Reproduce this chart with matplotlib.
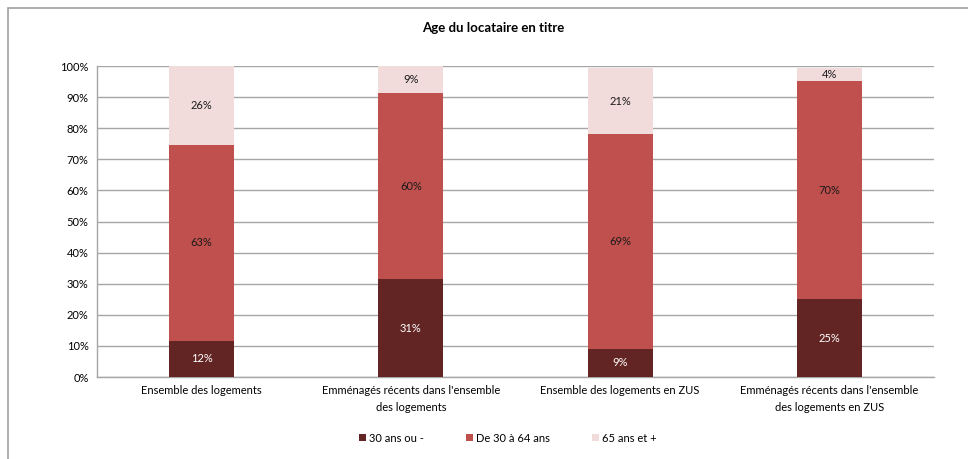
import matplotlib.pyplot as plt
import matplotlib.patches as patches
import numpy as np

plt.rcParams['font.family'] = ['Lato', 'DejaVu Sans']

categories = ["Ensemble des logements",
              "Emménagés récents dans l'ensemble\ndes logements",
              "Ensemble des logements en ZUS",
              "Emménagés récents dans l'ensemble\ndes logements en ZUS"]
series_names = ["30 ans ou -", "De 30 à 64 ans", "65 ans et +"]
jeunes = [11.7, 31.4, 9.1, 25.0]
moyens = [62.9, 60.0, 69.0, 70.1]
seniors = [25.4, 8.6, 21.2, 4.4]
labels = [["12%", "31%", "9%", "25%"],
          ["63%", "60%", "69%", "70%"],
          ["26%", "9%", "21%", "4%"]]
colors = ["#632523", "#C0504D", "#F2DCDB"]
text_colors = ["white", "#1a1a1a", "#1a1a1a"]

fig = plt.figure(figsize=(9.68, 4.59), dpi=100)
ax = fig.add_axes([0.1002, 0.1786, 0.8647, 0.6776])

# cadre du graphique
fig.patches.append(patches.Rectangle((8 / 968, -0.1), 1.2, 1 - 8 / 459 + 0.1,
                                     transform=fig.transFigure, fill=False,
                                     edgecolor="#A0A0A0", linewidth=1.2))

x = np.arange(len(categories))
bottom = np.zeros(len(categories))
for i, vals in enumerate([jeunes, moyens, seniors]):
    bars = ax.bar(x, vals, width=0.31, bottom=bottom, color=colors[i],
                  label=series_names[i], zorder=3)
    for j, b in enumerate(bars):
        ax.text(b.get_x() + b.get_width() / 2, bottom[j] + vals[j] / 2,
                labels[i][j], ha="center", va="center", fontsize=8,
                color=text_colors[i], zorder=4)
    bottom += np.array(vals)

ax.set_xlim(-0.5, 3.5)
ax.set_ylim(0, 100)
ax.set_yticks(np.arange(0, 101, 10))
ax.set_yticklabels([f"{v}%" for v in range(0, 101, 10)], fontsize=8)
ax.set_xticks(x)
ax.set_xticklabels(categories, fontsize=8, linespacing=1.6)
ax.tick_params(axis="both", length=0, pad=6)
ax.yaxis.grid(True, color="#A6A6A6", linewidth=1, zorder=0)
for s in ["top", "right"]:
    ax.spines[s].set_visible(False)
for s in ["left", "bottom"]:
    ax.spines[s].set_color("#A6A6A6")
    ax.spines[s].set_linewidth(1)

fig.text(493 / 968, 1 - 28 / 459, "Age du locataire en titre", ha="center", va="center",
         fontsize=9.5, fontweight="bold")

fig.legend(loc="center", bbox_to_anchor=(508 / 968, 1 - 438 / 459), ncol=3, frameon=False,
           fontsize=8, handlelength=0.6, handleheight=0.6, columnspacing=3.8,
           handletextpad=0.3)

fig.savefig("out.png", dpi=100)
